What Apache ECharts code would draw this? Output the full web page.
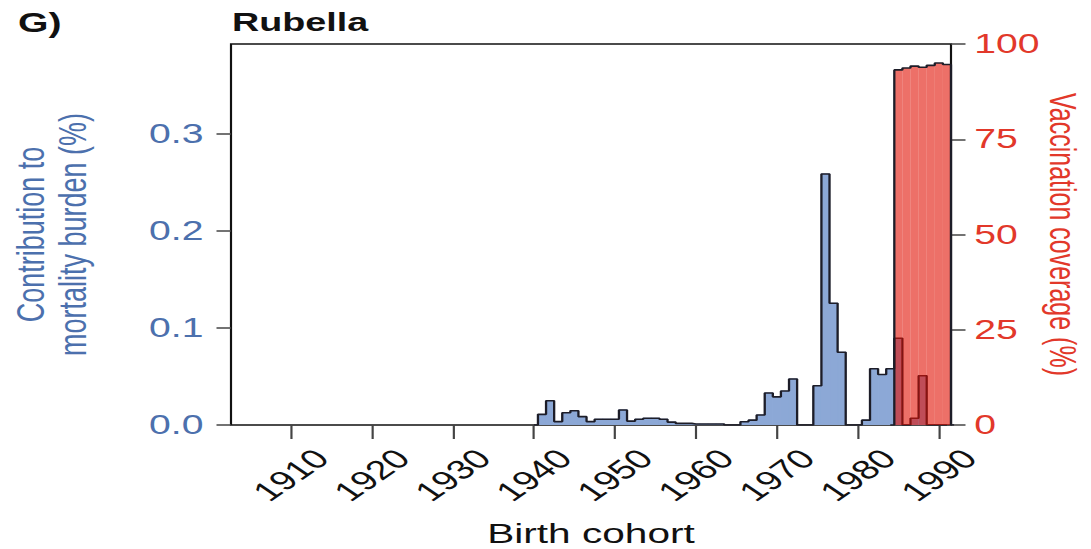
<!DOCTYPE html>
<html><head><meta charset="utf-8">
<script src="https://cdn.jsdelivr.net/npm/echarts@6/dist/echarts.min.js"></script>
<style>
html,body{margin:0;padding:0;overflow:hidden;background:#fff}
#wrap{width:1091px;height:549px;overflow:hidden;position:relative}
#chart{position:absolute;left:0;top:0;height:549px;transform-origin:0 0}
</style></head><body>
<div id="wrap"><div id="chart"></div></div>
<script>
// ---- data ----
const blueYears = [1940,1941,1942,1943,1944,1945,1946,1947,1948,1949,1950,1951,1952,1953,1954,1955,1956,1957,1958,1959,1960,1961,1962,1963,1964,1965,1966,1967,1968,1969,1970,1971,1972,1973,1974,1975,1976,1977,1978,1979,1980,1981,1982,1983,1984,1985,1986,1987,1988,1989,1990,1991];
const blueValues = [0,0.011,0.025,0.0035,0.0127,0.0147,0.0086,0.0035,0.006,0.006,0.006,0.0155,0.004,0.006,0.007,0.007,0.006,0.003,0.0017,0.0017,0.001,0.001,0.001,0.001,0,0,0.0034,0.005,0.0103,0.033,0.029,0.035,0.0474,0,0,0.0405,0.2588,0.1255,0.075,0,0,0.005,0.058,0.052,0.058,0.0894,0,0.0069,0.0508,0,0,0];
const redYears = [1984,1985,1986,1987,1988,1989,1990,1991,1992];
const redValues = [0,93.2,93.7,94.2,93.9,94.4,95.0,94.6,0];
const xTicks = [1910,1920,1930,1940,1950,1960,1970,1980,1990];
const leftTicks = [0,0.1,0.2,0.3];
const rightTicks = [0,25,50,75,100];

const S = 1.45; // horizontal stretch of the original figure
const W = 1091 / S;
const el = document.getElementById('chart');
el.style.width = W + 'px';
el.style.transform = 'scaleX(' + S + ')';

const BLUE = '#8CA8D6', RED = 'rgba(225,17,3,0.6)';
const BLUE_TXT = '#4C70AD', RED_TXT = '#E2382A';
const FONT = '"Liberation Sans", Arial, Helvetica, sans-serif';

function pairs(xs, ys){ return xs.map((x,i)=>[x, ys[i]]); }
function barRender(color, seam){
  return function(params, api){
    const x = api.value(0), v = api.value(1);
    if (!v) return null;
    const p0 = api.coord([x-0.5, 0]);
    const p1 = api.coord([x+0.5, v]);
    const style = {fill: color};
    if (seam) { style.stroke = color; style.lineWidth = 0.8; }
    return {type:'rect', shape:{x:p0[0], y:p1[1], width:p1[0]-p0[0], height:p0[1]-p1[1]}, style:style};
  };
}

const chart = echarts.init(el, null, {renderer:'svg', width: W, height: 549});
chart.setOption({
  animation:false,
  textStyle:{fontFamily:FONT},
  title:[
    {text:'G)', left:18/S, top:9, padding:0, textStyle:{fontSize:27, fontWeight:'bold', color:'#111', fontFamily:FONT}},
    {text:'Rubella', left:232/S, top:9, padding:0, textStyle:{fontSize:26, fontWeight:'bold', color:'#111', fontFamily:FONT}}
  ],
  grid:{left:231/S, right:(1091-951)/S, top:44, bottom:124, containLabel:false, outerBoundsMode:'none',
        show:true, borderColor:'#111', borderWidth:1.5, backgroundColor:'transparent'},
  xAxis:{
    type:'value', min:1902.6, max:1991.5,
    name:'Birth cohort', nameLocation:'middle', nameGap:94, nameMoveOverlap:false,
    nameTextStyle:{fontSize:28, color:'#111', fontFamily:FONT},
    axisLine:{show:false},
    splitLine:{show:false},
    axisTick:{show:true, customValues:xTicks, length:14, lineStyle:{color:'#444', width:1.5}},
    axisLabel:{customValues:xTicks, formatter:v=>String(v), rotate:45, fontSize:27, color:'#111', margin:50, align:'center', verticalAlign:'middle', fontFamily:FONT}
  },
  yAxis:[
    {type:'value', position:'left', min:0, max:0.3928,
     name:'Contribution to\nmortality burden (%)', nameLocation:'middle', nameGap:95, nameRotate:90, nameMoveOverlap:false,
     nameTextStyle:{fontSize:27, lineHeight:29, color:BLUE_TXT, fontFamily:FONT},
     axisLine:{show:false}, splitLine:{show:false},
     axisTick:{show:true, customValues:leftTicks, length:10, lineStyle:{color:'#444', width:1.5}},
     axisLabel:{customValues:leftTicks, formatter:v=>v.toFixed(1), fontSize:27, color:BLUE_TXT, margin:19, fontFamily:FONT}
    },
    {type:'value', position:'right', min:0, max:100, interval:25,
     name:'Vaccination coverage (%)', nameLocation:'middle', nameGap:64, nameRotate:-90, nameMoveOverlap:false,
     nameTextStyle:{fontSize:25, lineHeight:25, color:RED_TXT, fontFamily:FONT},
     axisLine:{show:false}, splitLine:{show:false},
     axisTick:{show:true, customValues:rightTicks, length:10, lineStyle:{color:'#444', width:1.5}},
     axisLabel:{customValues:rightTicks, formatter:v=>String(v), fontSize:27, color:RED_TXT, margin:16, fontFamily:FONT}
    }
  ],
  series:[
    {type:'custom', name:'burden', yAxisIndex:0, z:1, clip:true, renderItem:barRender(BLUE, true),
     encode:{x:0, y:1}, data:pairs(blueYears, blueValues)},
    {type:'line', name:'burden outline', yAxisIndex:0, z:2, step:'middle', symbol:'none', clip:true,
     lineStyle:{color:'#1d1d28', width:1.6}, data:pairs(blueYears, blueValues)},
    {type:'custom', name:'coverage', yAxisIndex:1, z:3, clip:true, renderItem:barRender(RED, false),
     encode:{x:0, y:1}, data:pairs(redYears, redValues)},
    {type:'line', name:'coverage outline', yAxisIndex:1, z:4, step:'middle', symbol:'none', clip:true,
     lineStyle:{color:'#1d1d28', width:1.6}, data:pairs(redYears, redValues)}
  ]
});
</script>
</body></html>
